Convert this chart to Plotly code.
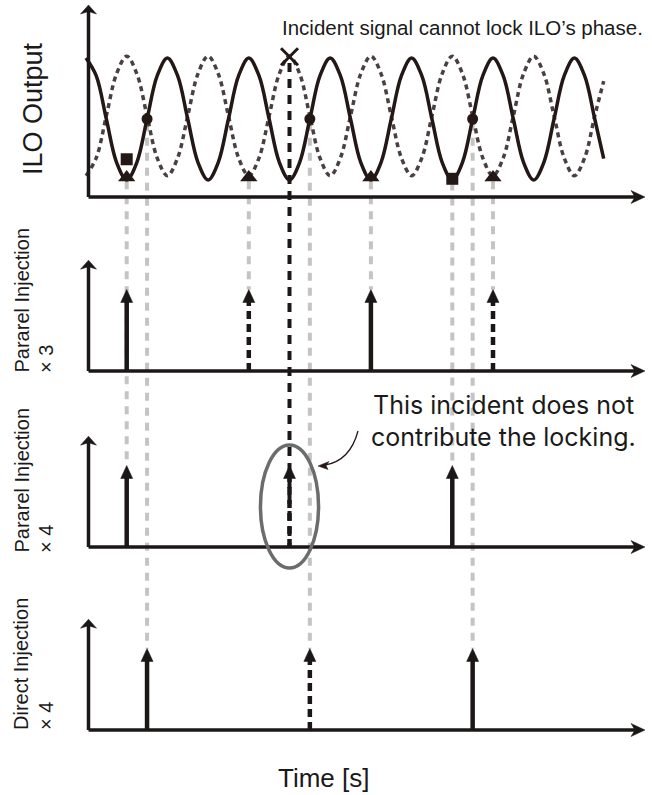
import plotly.graph_objects as go

# ---------------- data (time in ILO periods) ----------------
wave_t = [0, 0.125, 0.25, 0.375, 0.5, 0.625, 0.75, 0.875,
          1.0, 1.125, 1.25, 1.375, 1.5, 1.625, 1.75, 1.875,
          2.0, 2.125, 2.25, 2.375, 2.5, 2.625, 2.75, 2.875,
          3.0, 3.125, 3.25, 3.375, 3.5, 3.625, 3.75, 3.875,
          4.0, 4.125, 4.25, 4.375, 4.5, 4.625, 4.75, 4.875,
          5.0, 5.125, 5.25, 5.375, 5.5, 5.625, 5.75, 5.875,
          6.0, 6.125, 6.25, 6.36]
ilo_solid = [1, 0.71, 0, -0.71, -1, -0.71, 0, 0.71,
             1, 0.71, 0, -0.71, -1, -0.71, 0, 0.71,
             1, 0.71, 0, -0.71, -1, -0.71, 0, 0.71,
             1, 0.71, 0, -0.71, -1, -0.71, 0, 0.71,
             1, 0.71, 0, -0.71, -1, -0.71, 0, 0.71,
             1, 0.71, 0, -0.71, -1, -0.71, 0, 0.71,
             1, 0.71, 0, -0.65]
ilo_dotted = [-0.93, -0.64, 0.05, 0.74, 1.03, 0.74, 0.05, -0.64,
              -0.93, -0.64, 0.05, 0.74, 1.03, 0.74, 0.05, -0.64,
              -0.93, -0.64, 0.05, 0.74, 1.03, 0.74, 0.05, -0.64,
              -0.93, -0.64, 0.05, 0.74, 1.03, 0.74, 0.05, -0.64,
              -0.93, -0.64, 0.05, 0.74, 1.03, 0.74, 0.05, -0.64,
              -0.93, -0.64, 0.05, 0.74, 1.03, 0.74, 0.05, -0.64,
              -0.93, -0.64, 0.05, 0.62]

circle_t = [0.75, 2.75, 4.75]
circle_v = [0, 0, 0]
triangle_t = [0.5, 2.0, 3.5, 5.0]
triangle_v = [-0.96, -0.96, -0.96, -0.96]
square_t = [0.5, 4.5]
square_v = [-0.66, -0.98]
fail_t = [2.5]
fail_v = [1.02]

# injection pulses: time, amplitude, contributes to locking?
par3_t = [0.5, 2.0, 3.5, 5.0]
par3_amp = [1, 1, 1, 1]
par3_lock = [True, False, True, False]
par4_t = [0.5, 2.5, 4.5]
par4_amp = [1, 1, 1]
par4_lock = [True, False, True]
dir4_t = [0.75, 2.75, 4.75]
dir4_amp = [1, 1, 1]
dir4_lock = [True, False, True]

top_note = "Incident signal cannot lock ILO’s phase."
callout_lines = ["This incident does not", "contribute the locking."]
panel_names = ["ILO Output", "Pararel Injection", "Pararel Injection", "Direct Injection"]
panel_mult = ["", "× 3", "× 4", "× 4"]
x_title = "Time [s]"

# ---------------- layout helpers ----------------
W, H = 652, 795
PX0, PXT = 86.0, 81.4          # pixel of t=0, pixels per period
PY0, PYU = 730.0, 81.5         # pixel of Y=0, pixels per unit


def px2t(px):
    return (px - PX0) / PXT


def py2y(py):
    return (PY0 - py) / PYU


P1, A1 = py2y(119), 61 / PYU     # ILO panel centre and amplitude scale
bases = [py2y(371), py2y(547), 0.0]
AX_T0 = px2t(88.5)
AX_T1 = px2t(645)
P1_AXIS = py2y(197)
P1_TOP = py2y(5)
TOP_EXTRA = 1.36

INK = "#1b1716"
GUIDE = "#c4c4c4"

fig = go.Figure()
shapes = []


def head_up(t, ytip, hw_px, h_px, notch_px, color=INK):
    hw, h, n = hw_px / PXT, h_px / PYU, notch_px / PYU
    return dict(type="path", xref="x", yref="y", layer="above",
                path=f"M{t},{ytip} L{t-hw},{ytip-h} L{t},{ytip-n} L{t+hw},{ytip-h} Z",
                fillcolor=color, line=dict(color=color, width=0.5))


def head_right(ttip, y, hw_px, h_px, notch_px, color=INK):
    hw, h, n = hw_px / PYU, h_px / PXT, notch_px / PXT
    return dict(type="path", xref="x", yref="y", layer="above",
                path=f"M{ttip},{y} L{ttip-h},{y+hw} L{ttip-n},{y} L{ttip-h},{y-hw} Z",
                fillcolor=color, line=dict(color=color, width=0.5))


def line_trace(xs, ys, color=INK, width=3.5, dash=None):
    fig.add_trace(go.Scatter(x=xs, y=ys, mode="lines", hoverinfo="skip",
                             line=dict(color=color, width=width, dash=dash),
                             showlegend=False))


# ---------------- guide lines ----------------
pulse_sets = [(par3_t, par3_amp, par3_lock), (par4_t, par4_amp, par4_lock),
              (dir4_t, dir4_amp, dir4_lock)]
top_marks = list(zip(circle_t, circle_v)) + list(zip(triangle_t, triangle_v)) + \
    list(zip(square_t, square_v))
deepest = {}
for k, (ts, amps, locks) in enumerate(pulse_sets):
    for t, a in zip(ts, amps):
        deepest[t] = bases[k] + a
for t, yend in deepest.items():
    if t in fail_t:
        continue
    v0 = min(v for (tt, v) in top_marks if tt == t)
    line_trace([t, t], [P1 + A1 * (v0 - 0.06), yend], color=GUIDE, width=4, dash="8px,7px")
# failed incident: black dashed line from the cross down to the ×4 pulse baseline
for t, v in zip(fail_t, fail_v):
    line_trace([t, t], [P1 + A1 * (v - 0.1), bases[1]], color=INK, width=4, dash="9px,7px")

# ---------------- ILO waveforms ----------------
fig.add_trace(go.Scatter(x=wave_t, y=[P1 + A1 * v for v in ilo_dotted], mode="lines",
                         line=dict(color="#4a4041", width=3.5, dash="5px,4px", shape="spline"),
                         hoverinfo="skip", showlegend=False))
fig.add_trace(go.Scatter(x=wave_t, y=[P1 + A1 * v for v in ilo_solid], mode="lines",
                         line=dict(color="#231815", width=3.5, shape="spline"),
                         hoverinfo="skip", showlegend=False))

# ---------------- axes ----------------
axis_specs = [(P1_AXIS, P1_TOP)] + [(b, b + TOP_EXTRA) for b in bases]
for base, top in axis_specs:
    line_trace([AX_T0, AX_T0], [base, top - 6 / PYU], width=3.5)
    line_trace([AX_T0, AX_T1 - 9 / PXT], [base, base], width=3.5)
    shapes.append(head_up(AX_T0, top, 8, 9, 6.5))
    shapes.append(head_right(AX_T1, base, 6.5, 14, 10))

# ---------------- pulses ----------------
for k, (ts, amps, locks) in enumerate(pulse_sets):
    b = bases[k]
    for t, a, lk in zip(ts, amps, locks):
        line_trace([t, t], [b, b + a - 11 / PYU], width=4.5, dash=None if lk else "8px,5px")
        shapes.append(head_up(t, b + a, 6, 13, 13))

# ---------------- markers ----------------
fig.add_trace(go.Scatter(x=circle_t, y=[P1 + A1 * v for v in circle_v], mode="markers",
                         marker=dict(symbol="circle", size=11, color="#231815"),
                         hoverinfo="skip", showlegend=False))
fig.add_trace(go.Scatter(x=triangle_t, y=[P1 + A1 * v for v in triangle_v], mode="markers",
                         marker=dict(symbol="triangle-up", size=15, color="#231815"),
                         hoverinfo="skip", showlegend=False))
fig.add_trace(go.Scatter(x=square_t, y=[P1 + A1 * v for v in square_v], mode="markers",
                         marker=dict(symbol="square", size=12, color="#231815"),
                         hoverinfo="skip", showlegend=False))
fig.add_trace(go.Scatter(x=fail_t, y=[P1 + A1 * v for v in fail_v], mode="markers",
                         marker=dict(symbol="x-thin", size=17,
                                     line=dict(color="#231815", width=3)),
                         hoverinfo="skip", showlegend=False))

# ---------------- ellipse + callout ----------------
ft = fail_t[0]
shapes.append(dict(type="circle", xref="x", yref="y", layer="above",
                   x0=ft - 0.357, x1=ft + 0.357,
                   y0=bases[1] - 0.257, y1=bases[1] + 1.252,
                   line=dict(color="#6b6c6c", width=3.5)))


def P(px, py):
    return f"{px2t(px)},{py2y(py)}"


shapes.append(dict(type="path", xref="x", yref="y", layer="above",
                   path=f"M{P(358, 431)} Q{P(350, 461)} {P(325, 465)}",
                   line=dict(color="#231815", width=1.3)))
shapes.append(dict(type="path", xref="x", yref="y", layer="above",
                   path=f"M{P(318, 466)} L{P(329, 461.5)} L{P(326, 465.5)} L{P(328, 469.5)} Z",
                   fillcolor="#231815", line=dict(color="#231815", width=0.5)))

# ---------------- text ----------------
SANS = "Liberation Sans, Arial, sans-serif"
HUM = "Inter, Lato, sans-serif"
ann = []


def txt(text, px, py, size, xanchor="center", yanchor="middle", angle=0, font=SANS):
    ann.append(dict(text=text, x=px / W, y=1 - py / H, xref="paper", yref="paper",
                    xanchor=xanchor, yanchor=yanchor, textangle=angle, showarrow=False,
                    font=dict(family=font, size=size, color="#1a1a1a")))


txt(top_note, 280, 28, 20.5, xanchor="left")
txt(panel_names[0], 33, 109, 27, angle=-90)
label_bottoms = [375, 555, 732]
for k in range(3):
    txt(panel_names[k + 1], 21, label_bottoms[k], 20, yanchor="bottom", angle=-90)
    txt(panel_mult[k + 1], 46, label_bottoms[k], 20, yanchor="bottom", angle=-90)
txt(x_title, 323, 778, 26)
txt(callout_lines[0], 503, 405, 25, font=HUM)
txt(callout_lines[1], 503, 437, 25, font=HUM)

fig.update_layout(
    width=W, height=H, margin=dict(l=0, r=0, t=0, b=0),
    paper_bgcolor="white", plot_bgcolor="white",
    xaxis=dict(range=[px2t(0), px2t(W)], visible=False, fixedrange=True),
    yaxis=dict(range=[py2y(H), py2y(0)], visible=False, fixedrange=True),
    shapes=shapes, annotations=ann, showlegend=False,
)
fig.write_html("out.html", config={"displayModeBar": False},
               post_script="document.body.style.margin='0';")
